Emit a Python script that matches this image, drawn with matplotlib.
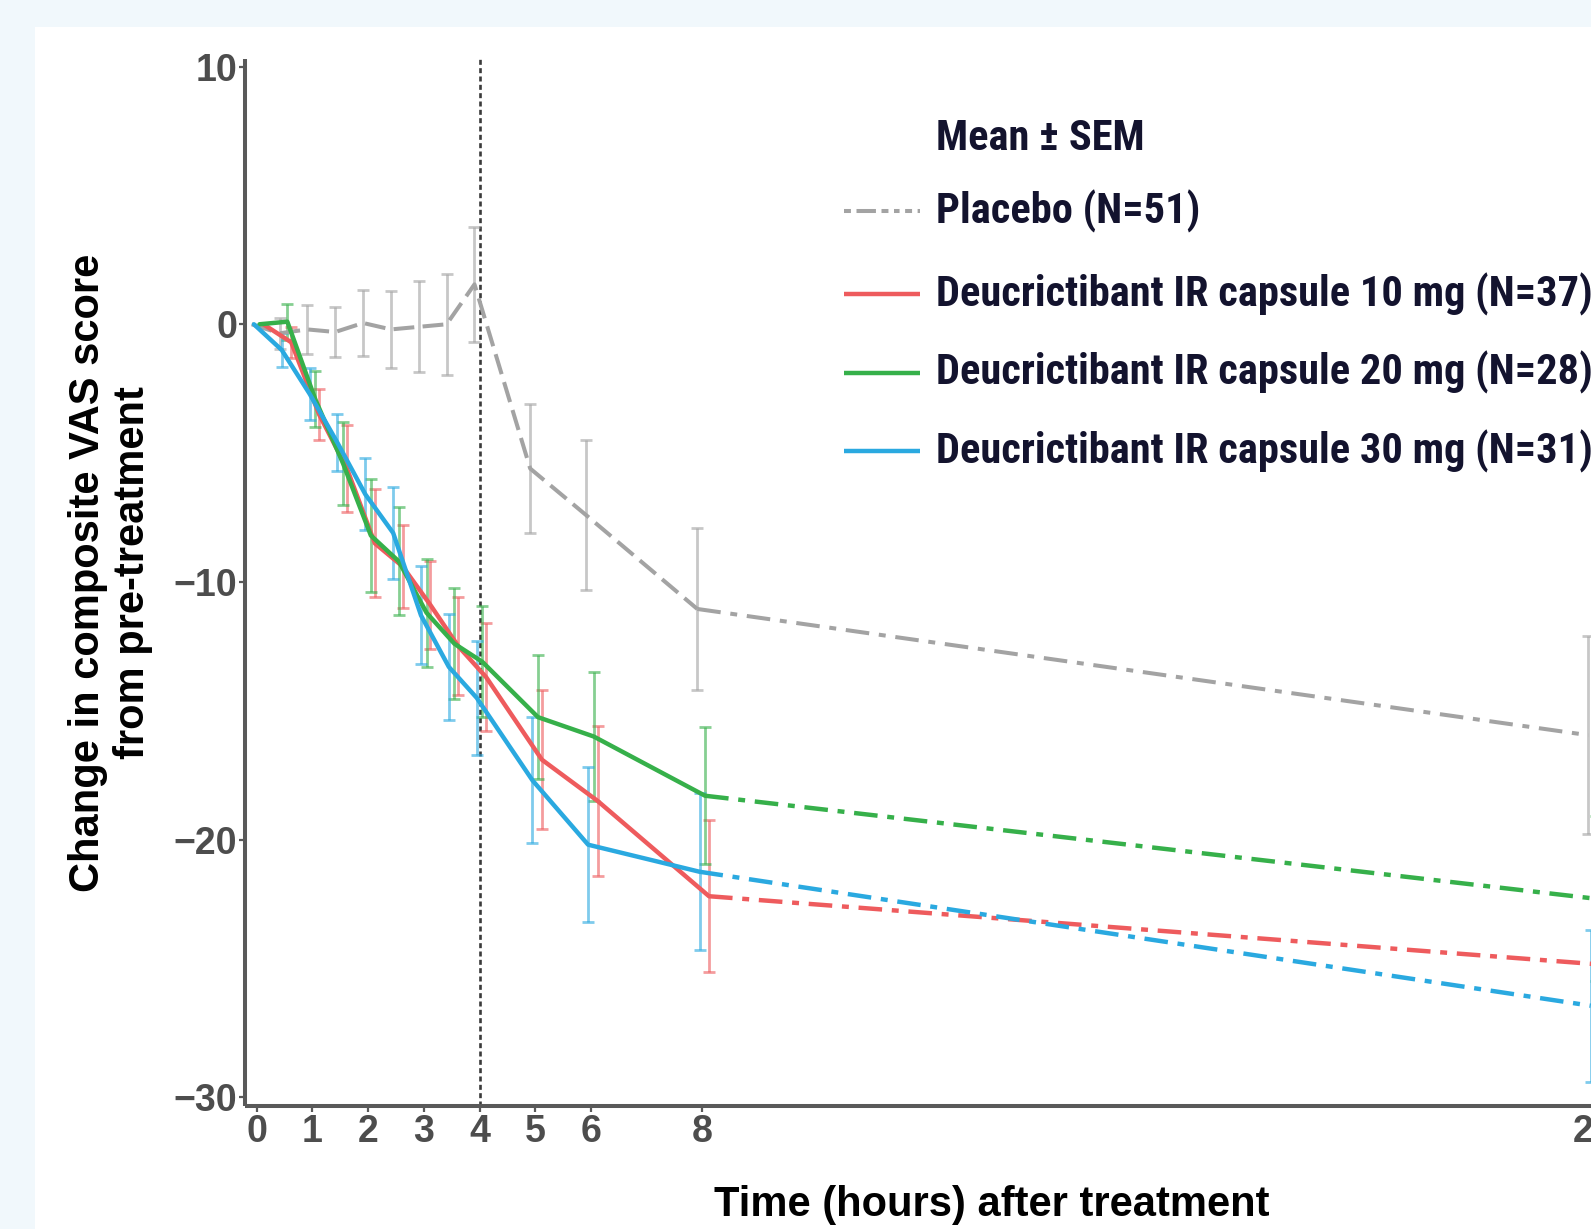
import os
import numpy as np
import matplotlib
matplotlib.use("Agg")
import matplotlib.pyplot as plt
from matplotlib import font_manager as fm
from matplotlib.lines import Line2D
from matplotlib.patches import Rectangle

# ---------------- data ----------------
TIMES = [0, 0.5, 1, 1.5, 2, 2.5, 3, 3.5, 4, 5, 6, 8, 24]

PLACEBO_MEAN = [0, -0.35, -0.2, -0.3, 0.05, -0.2, -0.1, 0.0, 1.55, -5.6, -7.4, -11.05, -15.95]
PLACEBO_SEM = [0, 0.6, 0.95, 0.97, 1.27, 1.5, 1.77, 1.95, 2.22, 2.5, 2.9, 3.15, 3.85]

MEAN_10 = [0, -0.7, -3.5, -5.6, -8.5, -9.4, -10.9, -12.5, -13.7, -16.9, -18.5, -22.2, -24.85]
SEM_10 = [0, 0.6, 1.0, 1.7, 2.1, 1.6, 1.7, 1.9, 2.1, 2.7, 2.9, 2.95, 3.0]

MEAN_20 = [0, 0.1, -2.9, -5.4, -8.2, -9.2, -11.2, -12.4, -13.1, -15.25, -16.0, -18.3, -22.3]
SEM_20 = [0, 0.7, 1.1, 1.6, 2.2, 2.1, 2.1, 2.15, 2.15, 2.4, 2.5, 2.65, 3.2]

MEAN_30 = [0, -1.0, -2.7, -4.6, -6.6, -8.1, -11.3, -13.3, -14.5, -17.7, -20.2, -21.25, -26.45]
SEM_30 = [0, 0.65, 1.0, 1.1, 1.4, 1.8, 1.9, 2.05, 2.2, 2.45, 3.0, 3.05, 2.95]

XTICKS = [0, 1, 2, 3, 4, 5, 6, 8, 24]
YTICKS = [-30, -20, -10, 0, 10]
VLINE_X = 4
SPLIT_T = 8

LEGEND_TITLE = "Mean ± SEM"
LABELS = ["Placebo (N=51)",
          "Deucrictibant IR capsule 10 mg (N=37)",
          "Deucrictibant IR capsule 20 mg (N=28)",
          "Deucrictibant IR capsule 30 mg (N=31)"]
XLABEL = "Time (hours) after treatment"
YLABEL = "Change in composite VAS score\nfrom pre-treatment"

# ---------------- style ----------------
GRAY = "#A3A3A3"
RED = "#EE5B5D"
GREEN = "#36B04A"
BLUE = "#2AA9E0"
AXCOL = "#595959"
TICKCOL = "#4D4D4D"
LEGCOL = "#13132E"

W, H, DPI = 1591, 1229, 100
plt.rcParams["lines.scale_dashes"] = False
plt.rcParams["font.family"] = ["Liberation Sans", "DejaVu Sans"]
plt.rcParams["font.weight"] = "bold"


def fxp(px):
    return px / W


def fyp(py):
    return 1 - py / H


fig = plt.figure(figsize=(W / DPI, H / DPI), dpi=DPI, facecolor="#F1F8FC")
fig.add_artist(Rectangle((35 / W, 0), 1.0, (H - 27) / H, transform=fig.transFigure,
                         facecolor="white", edgecolor="none", zorder=-10))

# axes geometry (pixels)
x_lo, x_hi = -0.21, 25.0
px_per_h = 55.7
x0_px = 256.7
ax_left = x0_px + x_lo * px_per_h
ax_right = x0_px + x_hi * px_per_h
ax_top, ax_bot = 58.9, 1106.2
ax = fig.add_axes([ax_left / W, (H - ax_bot) / H, (ax_right - ax_left) / W, (ax_bot - ax_top) / H])
ax.set_facecolor("none")
ax.set_xlim(x_lo, x_hi)
ax.set_ylim(-30.35, 10.3)

for s in ("top", "right"):
    ax.spines[s].set_visible(False)
for s in ("left", "bottom"):
    ax.spines[s].set_color(AXCOL)
    ax.spines[s].set_linewidth(2.9)
    ax.spines[s].set_capstyle("butt")

ax.set_xticks(XTICKS)
ax.set_yticks(YTICKS)
ax.tick_params(axis="both", colors=AXCOL, length=4, width=1.6, labelsize=27,
               labelcolor=TICKCOL)
ax.tick_params(axis="x", pad=1.5)
ax.tick_params(axis="y", pad=1.5)
for lbl in ax.get_xticklabels() + ax.get_yticklabels():
    lbl.set_fontweight("bold")

# vertical reference line
ax.axvline(VLINE_X, color="#3A3A3A", lw=1.9, linestyle=(0, (3.6, 2.4)), zorder=2)

times = np.array(TIMES, dtype=float)
series = [
    (PLACEBO_MEAN, PLACEBO_SEM, GRAY, -0.09, True),
    (MEAN_10, SEM_10, RED, 0.12, False),
    (MEAN_20, SEM_20, GREEN, 0.05, False),
    (MEAN_30, SEM_30, BLUE, -0.05, False),
]
for mean, sem, col, off, is_pl in series:
    t = times + off
    m = np.array(mean, dtype=float)
    s = np.array(sem, dtype=float)
    pre = times <= SPLIT_T
    post = times >= SPLIT_T
    lw = 2.9 if is_pl else 3.2
    ls_pre = (0, (15, 6)) if is_pl else "-"
    ax.plot(t[pre], m[pre], color=col, lw=lw, linestyle=ls_pre, solid_capstyle="round",
            dash_capstyle="butt", solid_joinstyle="round", zorder=5)
    ax.plot(t[post], m[post], color=col, lw=lw, linestyle=(0, (17, 7, 5, 7)),
            dash_capstyle="butt", zorder=5)
    msk = s > 0
    ax.errorbar(t[msk], m[msk], yerr=s[msk], fmt="none", ecolor=col, alpha=0.6,
                elinewidth=2.0, capsize=4.5, capthick=2.0, zorder=4)

# axis titles
fig.text(fxp(110.5), fyp(573), YLABEL, rotation=90, ha="center", va="center",
         fontsize=30, fontweight="bold", color="black", linespacing=1.15,
         multialignment="center")
fig.text(fxp(992), fyp(1205), XLABEL, ha="center", va="center", fontsize=30,
         fontweight="bold", color="black")


# ---------------- legend (manual) ----------------
def find_condensed():
    files = {}
    for f in fm.fontManager.ttflist:
        files[os.path.basename(f.fname).lower().rsplit(".", 1)[0]] = f.fname
    prefs = ["robotocondensed-bold", "notosans-extracondensedbold", "notosans-condensedbold",
             "liberationsansnarrow-bold", "opensans-condensedbold", "opensans_condensed-bold",
             "dejavusanscondensed-bold"]
    for p in prefs:
        if p in files:
            return fm.FontProperties(fname=files[p])
    for n, fn in files.items():
        if ("condensed" in n or "narrow" in n) and "bold" in n and "italic" not in n \
                and "oblique" not in n and "semi" not in n and "extra" not in n:
            return fm.FontProperties(fname=fn)
    return fm.FontProperties(family=["Roboto", "DejaVu Sans"], weight="bold")


legfp = find_condensed()
text_x = 936
title_y = 139
item_ys = [211, 294, 372.5, 451.5]
texts = []
texts.append(fig.text(fxp(text_x), fyp(title_y), LEGEND_TITLE, ha="left", va="center",
                      fontproperties=legfp, fontsize=30, color=LEGCOL))
for lab, yy in zip(LABELS, item_ys):
    texts.append(fig.text(fxp(text_x), fyp(yy), lab, ha="left", va="center",
                          fontproperties=legfp, fontsize=30, color=LEGCOL))

fig.canvas.draw()
rend = fig.canvas.get_renderer()
wid = texts[2].get_window_extent(rend).width
new_size = min(30 * 655.0 / wid, 34.0)
for t in texts:
    t.set_fontsize(new_size)

handle_styles = [
    (GRAY, 2.9, (0, (5, 4, 14, 4, 5, 4, 4, 4))),
    (RED, 3.2, "-"),
    (GREEN, 3.2, "-"),
    (BLUE, 3.2, "-"),
]
for (col, lw, ls), yy in zip(handle_styles, item_ys):
    fig.add_artist(Line2D([fxp(844), fxp(920)], [fyp(yy), fyp(yy)], transform=fig.transFigure,
                          color=col, lw=lw, linestyle=ls, solid_capstyle="butt",
                          dash_capstyle="butt"))

fig.savefig("out.png", dpi=DPI, facecolor=fig.get_facecolor())
